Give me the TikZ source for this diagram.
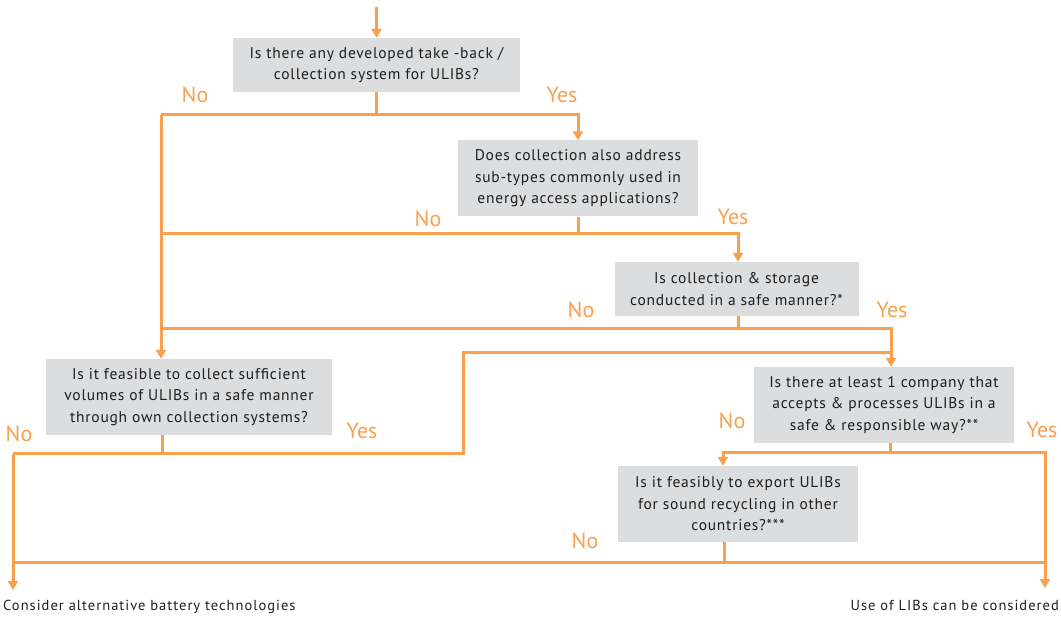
\documentclass[tikz,border=0pt]{standalone}
\usepackage{fontspec}
\setmainfont{PT Sans}
\newfontfamily\spacedfont[LetterSpace=5]{PT Sans}
\newfontfamily\endfont[LetterSpace=7]{PT Sans}
\usetikzlibrary{arrows.meta}
\definecolor{lineor}{HTML}{F9A04F}
\definecolor{boxgray}{HTML}{DCDDDF}
\definecolor{txt}{HTML}{1E1E1E}
\begin{document}
\begin{tikzpicture}[x=1pt,y=-1pt,
  qbox/.style={fill=boxgray, draw=none, text=txt, align=center, inner sep=0pt,
    font=\spacedfont\fontsize{15.5}{21.5}\selectfont},
  conn/.style={draw=lineor, line width=3pt},
  arr/.style={conn, -{Triangle[width=10pt,length=9pt]}},
  lab/.style={text=lineor, font=\fontsize{22}{22}\selectfont, inner sep=0pt},
  endtxt/.style={text=txt, font=\endfont\fontsize{14.5}{17}\selectfont, inner sep=0pt}]
\useasboundingbox (0,0) rectangle (1061,617);
% boxes
\node[qbox, minimum width=287pt, minimum height=54pt] (b1) at (376.5,65) {Is there any developed take -back /\\collection system for ULIBs?};
\node[qbox, minimum width=240pt, minimum height=76pt] (b2) at (578,178.5) {Does collection also address\\sub-types commonly used in\\energy access applications?};
\node[qbox, minimum width=244pt, minimum height=54pt] (b3) at (736.5,289) {Is collection \& storage\\conducted in a safe manner?*};
\node[qbox, minimum width=260pt, minimum height=76pt] (b4) at (884,405) {Is there at least 1 company that\\accepts \& processes ULIBs in a\\safe \& responsible way?**};
\node[qbox, minimum width=240pt, minimum height=76pt] (b5) at (738,504) {Is it feasibly to export ULIBs\\for sound recycling in other\\countries?***};
\node[qbox, minimum width=286pt, minimum height=76pt] (b6) at (189,397) {Is it feasible to collect sufficient\\volumes of ULIBs in a safe manner\\through own collection systems?};
% end texts
\node[endtxt, anchor=west] (e1) at (3,607) {Consider alternative battery technologies};
\node[endtxt, anchor=east] (e2) at (1059,605) {Use of LIBs can be considered};
% coordinates
\coordinate (s0) at (376.5,7);
\coordinate (j1L) at (161,115);
\coordinate (j1R) at (578,115);
\coordinate (j2L) at (161,234);
\coordinate (j2R) at (738,234);
\coordinate (j3L) at (161,329);
\coordinate (j3R) at (891,329);
\coordinate (j6L) at (13,454);
\coordinate (j6R) at (463,454);
\coordinate (j6U) at (463,353);
\coordinate (j6E) at (891,353);
\coordinate (j4L) at (723,453);
\coordinate (j4R) at (1045,453);
\coordinate (j5L) at (13,562);
\coordinate (j5R) at (1045,562);
\coordinate (t1) at (13,590);
\coordinate (t2) at (1045,588);
% connectors
\draw[arr] (s0) -- (b1.north);
\draw[conn] (b1.south) -- (b1.south |- j1L);
\draw[arr] (j1L) -- (j1R) -- (b2.north);
\draw[arr] (j1L) -- (b6.north -| j1L);
\draw[conn] (b2.south) -- (b2.south |- j2L);
\draw[arr] (j2L) -- (j2R) -- (b3.north -| j2R);
\draw[conn] (b3.south -| 738,0) -- (738,329);
\draw[arr] (j3L) -- (j3R) -- (b4.north -| j3R);
\draw[conn] (b6.south -| 162,0) -- (162,454);
\draw[conn] (j6L) -- (j6R) -- (j6U) -- (j6E);
\draw[arr] (j6L) -- (t1);
\draw[conn] (b4.south -| 890,0) -- (890,453);
\draw[arr] (j4L -| 890,0) -- (j4L) -- (b5.north -| j4L);
\draw[arr] (j4L) -- (j4R) -- (t2);
\draw[conn] (b5.south -| 724,0) -- (724,562);
\draw[conn] (j5L) -- (j5R);
% labels
\node[lab] (n1) at (195,95) {No};
\node[lab] (y1) at (562,95) {Yes};
\node[lab] (n2) at (428,219) {No};
\node[lab] (y2) at (733,217) {Yes};
\node[lab] (n3) at (581,310) {No};
\node[lab] (y3) at (892,310) {Yes};
\node[lab] (n6) at (19,434) {No};
\node[lab] (y6) at (362,431) {Yes};
\node[lab] (n4) at (732,421) {No};
\node[lab] (y4) at (1042,430) {Yes};
\node[lab] (n5) at (585,541) {No};
\end{tikzpicture}
\end{document}
